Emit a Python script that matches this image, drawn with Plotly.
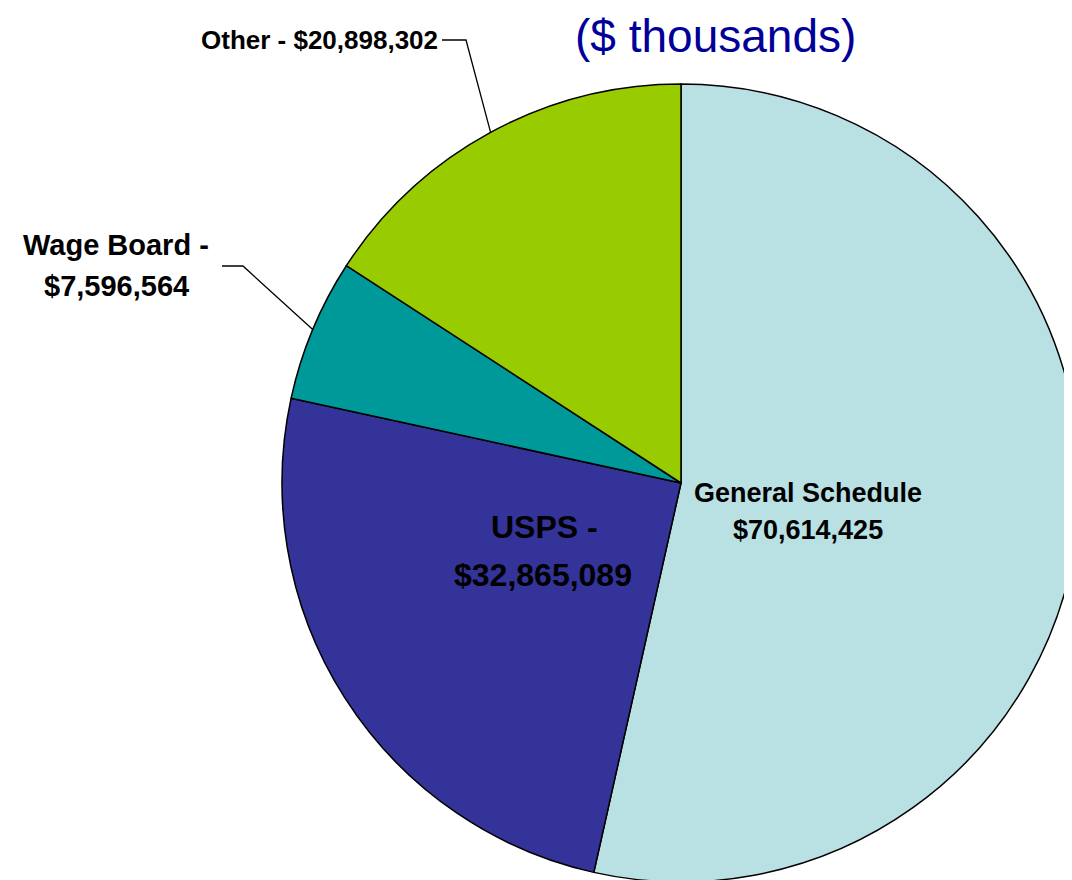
import numpy as np
import plotly.graph_objects as go

# ---- data ----
categories = ["General Schedule", "USPS", "Wage Board", "Other"]
values = [70614425, 32865089, 7596564, 20898302]
colors = ["#B9E0E3", "#333399", "#009999", "#99CC00"]
title_text = "($ thousands)"

W, H = 1072, 880
OFF = 8  # page body margin offset (screen px)
# pie geometry in screen pixels
CX, CY, R = 681, 483, 399


def px(x):
    return (x - OFF) / W


def py(y):
    return 1 - (y - OFF) / H


fig = go.Figure()
fig.add_trace(go.Pie(
    labels=categories,
    values=values,
    sort=False,
    direction="clockwise",
    rotation=0,
    marker=dict(colors=colors, line=dict(color="black", width=1.5)),
    textinfo="none",
    hoverinfo="label+value",
    showlegend=False,
    domain=dict(x=[max(0, px(CX - R)), min(1, px(CX + R))],
                y=[max(0, py(CY + R)), min(1, py(CY - R))]),
))

# mid-angle edge points of slices (computed from the data)
vals = np.array(values, dtype=float)
cum = np.cumsum(vals) / vals.sum()
start = np.concatenate([[0], cum[:-1]])
mid = (start + cum) / 2 * 2 * np.pi  # clockwise from 12 o'clock


def edge(i):
    return CX + R * np.sin(mid[i]), CY - R * np.cos(mid[i])


font_b = "Arial, Liberation Sans, sans-serif"
shapes = []
ox, oy = edge(3)
shapes.append(dict(type="path", xref="paper", yref="paper",
                   path=f"M {px(442)} {py(40)} L {px(466)} {py(40)} L {px(ox)} {py(oy)}",
                   line=dict(color="black", width=1.3)))
wx, wy = edge(2)
shapes.append(dict(type="path", xref="paper", yref="paper",
                   path=f"M {px(222)} {py(266)} L {px(243)} {py(266)} L {px(wx)} {py(wy)}",
                   line=dict(color="black", width=1.3)))


def ann(text, x, y, size, color="black", xanchor="center", yanchor="middle", bold=True):
    return dict(text=f"<b>{text}</b>" if bold else text, x=px(x), y=py(y),
                xref="paper", yref="paper", showarrow=False,
                xanchor=xanchor, yanchor=yanchor,
                font=dict(family=font_b, size=size, color=color))


annotations = [
    ann(title_text, 715, 8, 46, color="#000099", yanchor="top", bold=False),
    ann(f"Other - ${values[3]:,}", 440, 40, 26, xanchor="right"),
    ann("Wage Board -", 116, 245, 29),
    ann(f"${values[2]:,}", 116, 286, 29),
    ann("USPS -", 544, 527, 32),
    ann(f"${values[1]:,}", 543, 575, 32),
    ann("General Schedule", 808, 493, 27),
    ann(f"${values[0]:,}", 808, 530, 27),
]

fig.update_layout(
    width=W, height=H,
    margin=dict(l=0, r=0, t=0, b=0),
    paper_bgcolor="white", plot_bgcolor="white",
    shapes=shapes, annotations=annotations,
)

fig.write_html("out.html")
